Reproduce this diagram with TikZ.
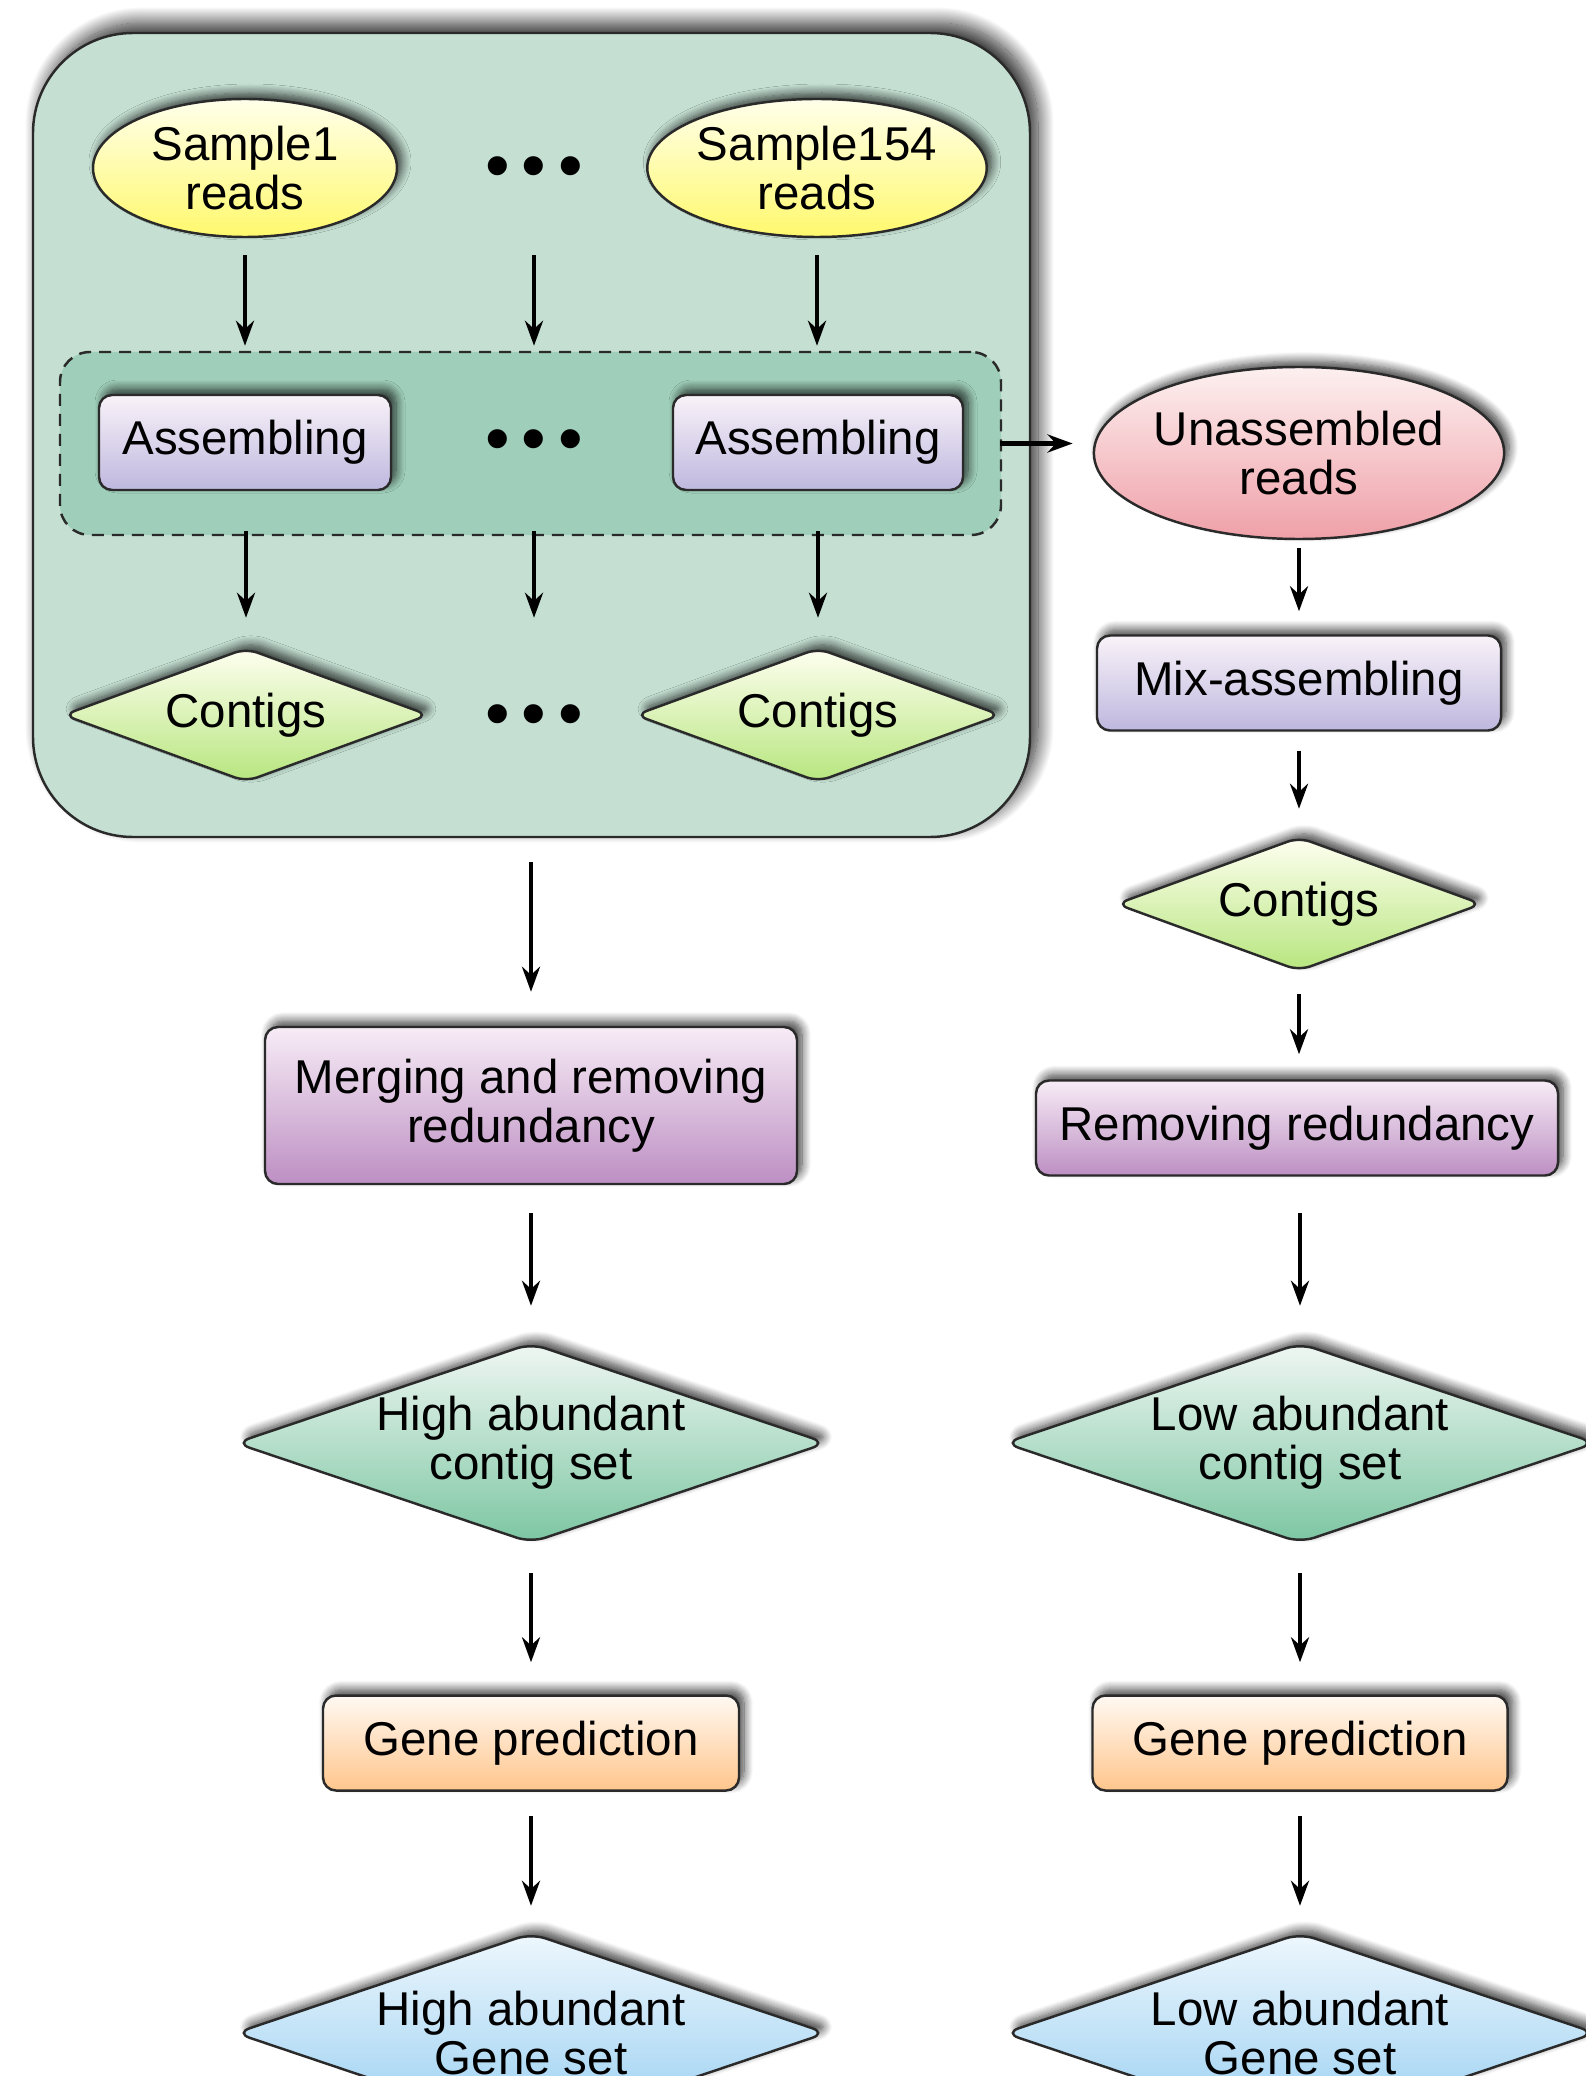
\documentclass[tikz,border=0pt]{standalone}
\usepackage{fontspec}
\setmainfont{Liberation Sans}
\usetikzlibrary{shapes.geometric,shadows.blur,arrows.meta,positioning}

\definecolor{grpgreen}{HTML}{C5E0D3}
\definecolor{asmgreen}{HTML}{9FCFBA}
\definecolor{edge}{HTML}{2A2A2A}

\newcommand{\mydots}{\textbullet\hspace{1.2mm}\textbullet\hspace{1.2mm}\textbullet}

\begin{document}
\begin{tikzpicture}[>={Stealth[length=2.5mm,width=1.8mm]}, thick,
    every node/.style={font=\fontsize{13.5}{14}\selectfont, align=center, inner sep=0pt},
    glow/.style={blur shadow={shadow xshift=0.05cm, shadow yshift=0.06cm,
        shadow blur radius=0.09cm, shadow blur steps=10, shadow opacity=75}},
    base/.style={draw=edge, line width=0.7pt, glow, shading=axis},
    reads/.style={base, ellipse, minimum width=3.04cm, minimum height=1.38cm,
        top color=yellow!8, bottom color=yellow!55!white!95!orange},
    task/.style={base, rectangle, rounded corners=0.13cm, minimum height=0.95cm},
    lilac/.style={task, top color=violet!5, bottom color=violet!30!blue!20!white!90!black},
    plum/.style={task, top color={rgb,255:red,247;green,236;blue,246}, bottom color={rgb,255:red,189;green,143;blue,195}},
    peach/.style={task, top color=orange!5, bottom color=orange!45},
    contig/.style={base, diamond, rounded corners=0.12cm, minimum width=3.66cm,
        minimum height=1.34cm, top color=green!4!yellow!6, bottom color=green!45!yellow!45!white!90!black},
    set/.style={base, diamond, rounded corners=0.15cm, minimum width=5.92cm, minimum height=2.0cm},
    teal/.style={set, top color={rgb,255:red,239;green,247;blue,243}, bottom color={rgb,255:red,124;green,198;blue,162}},
    sky/.style={set, top color={rgb,255:red,238;green,247;blue,253}, bottom color={rgb,255:red,150;green,206;blue,241}},
    dots/.style={font=\fontsize{20}{20}\selectfont},
    arr/.style={->, line width=1.3pt, shorten <=0.26cm, shorten >=0.32cm}]

    \useasboundingbox (0,0) rectangle (15.85,-20.76);

    % Per-sample assembly group
    \node[draw=edge, line width=0.7pt, fill=grpgreen, rounded corners=1cm,
        blur shadow={shadow xshift=0.08cm, shadow yshift=0.1cm, shadow blur radius=0.16cm,
            shadow blur steps=24, shadow opacity=85},
        minimum width=9.97cm, minimum height=8.04cm] (grp) at (5.315,-4.35) {};
    \node[draw=edge, line width=0.7pt, dash pattern=on 1.2mm off 0.8mm, fill=asmgreen,
        rounded corners=0.3cm, minimum width=9.41cm, minimum height=1.83cm] (asm) at (5.305,-4.435) {};

    % Reads
    \node[reads] (s1) at (2.45,-1.68) {Sample1\\reads};
    \node[reads] (s154) at (8.17,-1.68) {Sample154\\reads};
    \node[dots] (d1) at (5.34,-1.73) {\mydots};

    % Assembling
    \node[lilac, minimum width=2.92cm] (a1) at (2.45,-4.425) {Assembling};
    \node[lilac, minimum width=2.90cm] (a154) at (8.18,-4.425) {Assembling};
    \node[dots] (d2) at (5.34,-4.46) {\mydots};

    % Contigs
    \node[contig, label=center:Contigs] (c1) at (2.46,-7.15) {};
    \node[contig, label=center:Contigs] (c154) at (8.18,-7.15) {};
    \node[dots] (d3) at (5.34,-7.21) {\mydots};

    \foreach \s in {s1,d1,s154} {
        \draw[arr, shorten <=0.17cm, shorten >=0.05cm] (\s |- s1.south) -- (\s |- asm.north);
    }
    \foreach \c in {c1,d3,c154} {
        \draw[arr, shorten <=-0.05cm, shorten >=0.29cm] (\c |- asm.south) -- (\c |- c1.north);
    }

    % Left branch
    \node[plum, minimum width=5.32cm, minimum height=1.57cm] (merge) at (5.31,-11.055)
        {Merging and removing\\redundancy};
    \node[teal, label=center:{High abundant\\contig set}] (hcs) at (5.31,-14.43) {};
    \node[peach, minimum width=4.16cm] (hgp) at (5.31,-17.43) {Gene prediction};
    \node[sky, label=center:{High abundant\\Gene set}] (hgs) at (5.31,-20.33) {};

    \draw[arr, shorten <=0.24cm, shorten >=0.34cm] (grp.south -| merge) -- (merge);
    \draw[arr, shorten <=0.28cm, shorten >=0.36cm] (merge) -- (hcs);
    \draw[arr, shorten <=0.29cm] (hcs) -- (hgp);
    \draw[arr, shorten <=0.24cm, shorten >=0.26cm] (hgp) -- (hgs);

    % Right branch
    \node[base, ellipse, minimum width=3.50cm, minimum height=1.72cm,
        top color={rgb,255:red,253;green,240;blue,240}, bottom color={rgb,255:red,239;green,160;blue,168}]
        (un) at (12.99,-4.53) {Unassembled\\reads};
    \node[lilac, minimum width=4.04cm] (mix) at (12.99,-6.83) {Mix-assembling};
    \node[contig, label=center:Contigs] (c2) at (12.99,-9.04) {};
    \node[plum, minimum width=5.22cm] (rem) at (12.97,-11.28) {Removing redundancy};
    \node[teal, label=center:{Low abundant\\contig set}] (lcs) at (13.0,-14.43) {};
    \node[peach, minimum width=4.15cm] (lgp) at (13.0,-17.43) {Gene prediction};
    \node[sky, label=center:{Low abundant\\Gene set}] (lgs) at (13.0,-20.33) {};

    \draw[arr, shorten <=-0.02cm, shorten >=0.2cm] (asm.east) -- (un.west |- asm.east);
    \draw[arr, shorten <=0.08cm, shorten >=0.23cm] (un) -- (un |- mix.north);
    \draw[arr, shorten <=0.19cm, shorten >=0.27cm] (mix) -- (mix |- c2.north);
    \draw[arr, shorten <=0.22cm, shorten >=0.25cm] (c2) -- (c2 |- rem.north);
    \draw[arr, shorten <=0.36cm, shorten >=0.36cm] (lcs |- rem.south) -- (lcs);
    \draw[arr, shorten <=0.29cm] (lcs) -- (lgp);
    \draw[arr, shorten <=0.24cm, shorten >=0.26cm] (lgp) -- (lgs);
\end{tikzpicture}
\end{document}
